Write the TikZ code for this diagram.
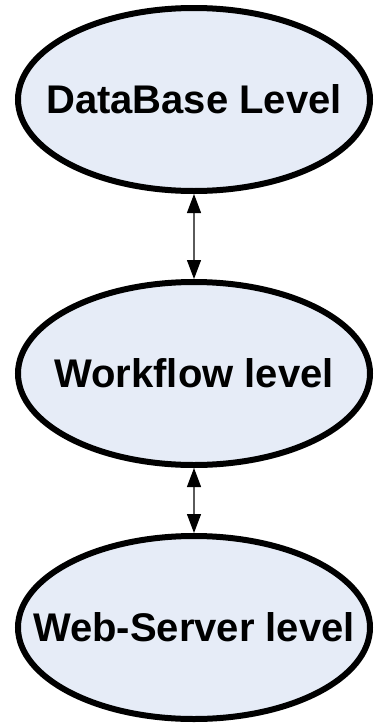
\documentclass[tikz,border=0pt]{standalone}
\usepackage{fontspec}
\setmainfont{Liberation Sans}
\usetikzlibrary{shapes.geometric,arrows.meta}
\definecolor{lvlfill}{RGB}{230,236,247}
\definecolor{linkgray}{RGB}{90,90,90}
\newcommand{\lvltext}[1]{\makebox[0pt]{#1}}
\begin{document}
\begin{tikzpicture}[x=1pt,y=1pt,
  level/.style={ellipse, draw=black, line width=6pt, fill=lvlfill,
    minimum width=352pt, minimum height=183pt, inner sep=0pt,
    font=\fontsize{40}{46}\selectfont\bfseries},
  link/.style={draw=linkgray, line width=1.2pt,
    {Triangle[length=19pt,width=14pt,color=black]}-{Triangle[length=19pt,width=14pt,color=black]}}]
\useasboundingbox (0,0) rectangle (373,-723);
\node[level] (db) at (194,-99.5) {\lvltext{DataBase Level}};
\node[level] (wf) at (194,-373.5) {\lvltext{Workflow level}};
\node[level] (ws) at (194,-627.5) {\lvltext{Web-Server level}};
\draw[link] (db.south) -- (wf.north);
\draw[link] (wf.south) -- (ws.north);
\end{tikzpicture}
\end{document}
